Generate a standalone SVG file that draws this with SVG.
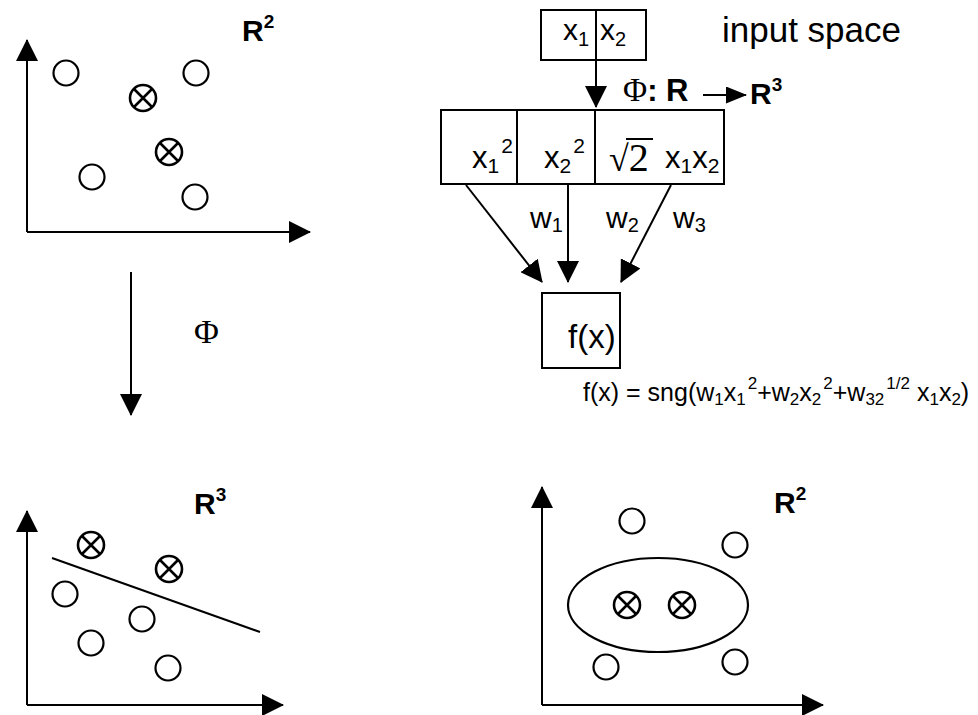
<svg xmlns="http://www.w3.org/2000/svg" xmlns:xlink="http://www.w3.org/1999/xlink" width="978" height="715" viewBox="0 0 978 715">
<style>
.ln{stroke:#000;stroke-width:2;fill:none}
.bx{stroke:#000;stroke-width:2;fill:#fff}
.pt{stroke:#000;stroke-width:2.2;fill:none}
.ox{stroke:#000;stroke-width:2.6;fill:none}
.t{font-family:"Liberation Sans",Arial,Helvetica,sans-serif;fill:#000}
.b{font-weight:bold}
.s{font-family:"Liberation Serif","Times New Roman",serif;fill:#000}
</style>
<defs>
<marker id="ah" markerUnits="userSpaceOnUse" markerWidth="22" markerHeight="22" viewBox="0 0 22 22" refX="21" refY="11" orient="auto"><path d="M0,0 L22,11 L0,22 z" fill="#000"/></marker>
<marker id="ahs" markerUnits="userSpaceOnUse" markerWidth="21" markerHeight="17" viewBox="0 0 21 17" refX="20" refY="8.5" orient="auto"><path d="M0,0 L21,8.5 L0,17 z" fill="#000"/></marker>
<circle id="o" r="12.5" class="pt"/>
<g id="x"><circle r="13" class="ox"/><path d="M-9,-9 L9,9 M9,-9 L-9,9" class="ox" stroke-width="2.2"/></g>
</defs>

<!-- top-left panel: R2 input -->
<g id="panel-r2-input">
<path class="ln" d="M27,232 V40" marker-end="url(#ah)"/>
<path class="ln" d="M27,232 H310" marker-end="url(#ah)"/>
<text class="t b" x="242" y="41" font-size="30">R<tspan dy="-13" font-size="19">2</tspan></text>
<use xlink:href="#o" x="66" y="73"/>
<use xlink:href="#o" x="196" y="73"/>
<use xlink:href="#o" x="92" y="177"/>
<use xlink:href="#o" x="195" y="197"/>
<use xlink:href="#x" x="143" y="98"/>
<use xlink:href="#x" x="169" y="152"/>
</g>

<!-- mapping arrow Phi -->
<g id="phi-map">
<path class="ln" d="M131,272 V415" marker-end="url(#ah)"/>
<text class="s" x="194" y="343" font-size="34">Φ</text>
</g>

<!-- bottom-left panel: R3 -->
<g id="panel-r3">
<path class="ln" d="M27,705 V511" marker-end="url(#ah)"/>
<path class="ln" d="M27,705 H283" marker-end="url(#ah)"/>
<text class="t b" x="194" y="514" font-size="30">R<tspan dy="-13" font-size="19">3</tspan></text>
<path class="ln" d="M52,558 L260,632"/>
<use xlink:href="#x" x="91" y="545"/>
<use xlink:href="#x" x="169" y="569"/>
<use xlink:href="#o" x="65" y="594"/>
<use xlink:href="#o" x="142" y="619"/>
<use xlink:href="#o" x="91" y="643"/>
<use xlink:href="#o" x="168" y="668"/>
</g>

<!-- bottom-right panel: R2 result -->
<g id="panel-r2-result">
<path class="ln" d="M542,705 V487" marker-end="url(#ah)"/>
<path class="ln" d="M542,705 H823" marker-end="url(#ah)"/>
<text class="t b" x="774" y="513" font-size="30">R<tspan dy="-13" font-size="19">2</tspan></text>
<ellipse class="pt" cx="658" cy="605" rx="90" ry="47"/>
<use xlink:href="#o" x="632" y="521"/>
<use xlink:href="#o" x="735" y="545"/>
<use xlink:href="#o" x="606" y="667"/>
<use xlink:href="#o" x="735" y="662"/>
<use xlink:href="#x" x="627" y="605"/>
<use xlink:href="#x" x="682" y="605"/>
</g>

<!-- connectors -->
<g id="connectors">
<path class="ln" d="M596,60 V107" marker-end="url(#ah)"/>
<path class="ln" d="M466,185 L542,282" marker-end="url(#ah)"/>
<path class="ln" d="M568,185 V282" marker-end="url(#ah)"/>
<path class="ln" d="M671,185 L621,282" marker-end="url(#ah)"/>
<path class="ln" d="M703,95 H746" marker-end="url(#ahs)"/>
</g>

<!-- input node -->
<g id="node-input">
<rect class="bx" x="541" y="10" width="105" height="50"/>
<line class="ln" x1="596" y1="10" x2="596" y2="60"/>
<text class="t" x="563" y="40" font-size="30">x<tspan dy="6" font-size="20">1</tspan></text>
<text class="t" x="600" y="40" font-size="30">x<tspan dy="6" font-size="20">2</tspan></text>
</g>
<text class="t" x="722" y="42" font-size="35">input space</text>
<text x="623" y="101" font-size="31"><tspan class="s" font-size="33">Φ</tspan><tspan class="t b">: R</tspan></text>
<text class="t b" x="750" y="104" font-size="30">R<tspan dy="-13" font-size="19">3</tspan></text>

<!-- feature node -->
<g id="node-features">
<rect class="bx" x="441" y="110" width="283" height="74"/>
<line class="ln" x1="517" y1="110" x2="517" y2="184"/>
<line class="ln" x1="595" y1="110" x2="595" y2="184"/>
<text class="t" x="472" y="168" font-size="31">x<tspan dy="5" font-size="21">1</tspan><tspan dx="2" dy="-20" font-size="21">2</tspan></text>
<text class="t" x="544" y="168" font-size="31">x<tspan dy="5" font-size="21">2</tspan><tspan dx="2" dy="-20" font-size="21">2</tspan></text>
<text class="s" x="609" y="171" font-size="36">√<tspan font-size="40">2</tspan></text>
<line class="ln" x1="626" y1="139" x2="653" y2="139" stroke-width="1.8"/>
<text class="t" x="665" y="168" font-size="31">x<tspan dy="5" font-size="21">1</tspan><tspan dy="-5">x</tspan><tspan dy="5" font-size="21">2</tspan></text>
</g>

<!-- weights -->
<g id="weights">
<text class="t" x="530" y="228" font-size="30">w<tspan dy="4" font-size="20">1</tspan></text>
<text class="t" x="606" y="228" font-size="30">w<tspan dy="4" font-size="20">2</tspan></text>
<text class="t" x="673" y="228" font-size="30">w<tspan dy="4" font-size="20">3</tspan></text>
</g>

<!-- output node -->
<g id="node-output">
<rect class="bx" x="542" y="293" width="78" height="75"/>
<text class="t" x="568" y="348" font-size="33">f(x)</text>
</g>
<text class="t" x="583" y="401" font-size="25">f(x) = sng(w<tspan dy="4" font-size="17">1</tspan><tspan dy="-4">x</tspan><tspan dy="4" font-size="17">1</tspan><tspan dx="2" dy="-16" font-size="17">2</tspan><tspan dy="12">+w</tspan><tspan dy="4" font-size="17">2</tspan><tspan dy="-4">x</tspan><tspan dy="4" font-size="17">2</tspan><tspan dx="2" dy="-16" font-size="17">2</tspan><tspan dy="12">+w</tspan><tspan dy="4" font-size="17">32</tspan><tspan dx="2" dy="-16" font-size="17">1/2</tspan><tspan dy="12"> x</tspan><tspan dy="4" font-size="17">1</tspan><tspan dy="-4">x</tspan><tspan dy="4" font-size="17">2</tspan><tspan dy="-4">)</tspan></text>
</svg>
